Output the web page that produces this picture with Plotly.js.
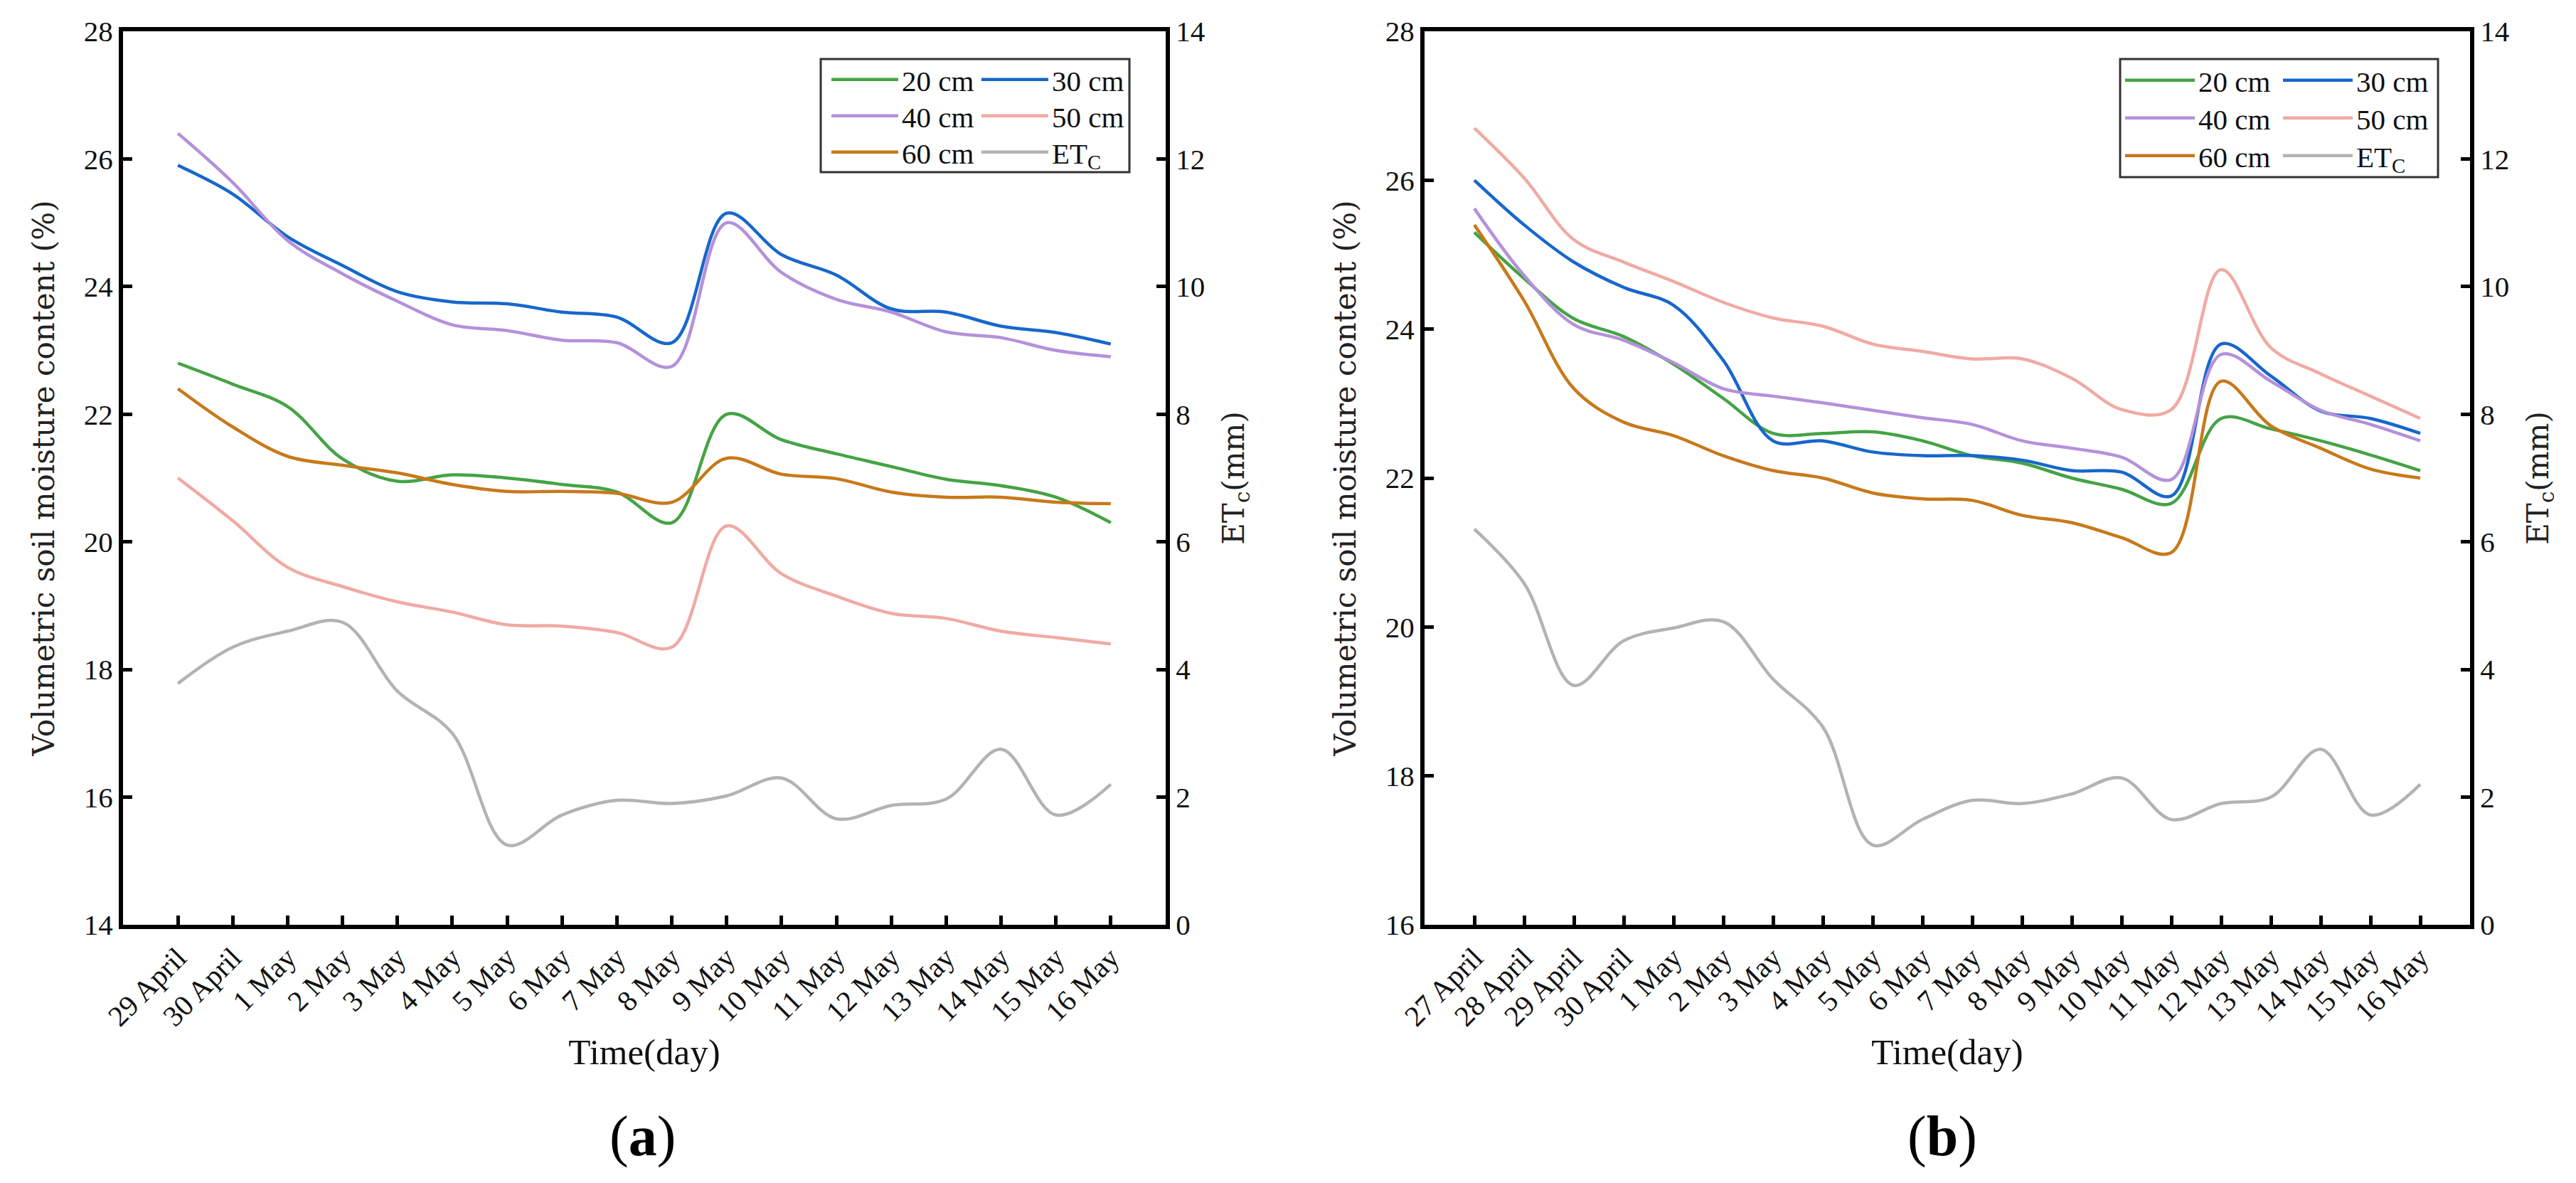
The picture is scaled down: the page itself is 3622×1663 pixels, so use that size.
<!DOCTYPE html>
<html><head><meta charset="utf-8">
<script src="https://cdn.plot.ly/plotly-3.0.1.min.js"></script>
<style>html,body{margin:0;padding:0;background:#fff;} #chart{width:3622px;height:1663px;}</style>
</head><body><div id="chart"></div>
<script>
// ---------- data: panel (a) ----------
const datesA = ['29 April','30 April','1 May','2 May','3 May','4 May','5 May','6 May','7 May','8 May','9 May','10 May','11 May','12 May','13 May','14 May','15 May','16 May'];
const a20 = [22.8,22.47,22.12,21.3,20.95,21.05,21.0,20.9,20.78,20.3,22.0,21.6,21.38,21.18,20.98,20.88,20.7,20.3];
const a30 = [25.9,25.45,24.78,24.33,23.92,23.76,23.73,23.6,23.52,23.12,25.15,24.5,24.18,23.65,23.6,23.38,23.28,23.1];
const a40 = [26.4,25.63,24.72,24.2,23.77,23.4,23.31,23.16,23.12,22.75,25.0,24.22,23.8,23.6,23.29,23.2,23.0,22.9];
const a50 = [21.0,20.33,19.6,19.3,19.06,18.9,18.7,18.68,18.58,18.35,20.25,19.5,19.15,18.88,18.8,18.6,18.5,18.4];
const a60 = [22.4,21.8,21.34,21.2,21.08,20.9,20.79,20.79,20.76,20.62,21.31,21.06,20.99,20.78,20.7,20.7,20.62,20.6];
const aET = [3.78,4.35,4.6,4.74,3.66,3.0,1.25,1.72,1.95,1.9,2.02,2.3,1.66,1.87,1.97,2.75,1.72,2.2];

// ---------- data: panel (b) ----------
const datesB = ['27 April','28 April','29 April','30 April','1 May','2 May','3 May','4 May','5 May','6 May','7 May','8 May','9 May','10 May','11 May','12 May','13 May','14 May','15 May','16 May'];
const b20 = [25.3,24.68,24.14,23.9,23.53,23.07,22.6,22.6,22.62,22.5,22.3,22.2,22.0,21.85,21.66,22.8,22.66,22.5,22.31,22.1];
const b30 = [26.0,25.4,24.9,24.56,24.32,23.58,22.5,22.5,22.35,22.3,22.3,22.24,22.1,22.08,21.76,23.8,23.37,22.9,22.8,22.6];
const b40 = [25.62,24.72,24.06,23.85,23.55,23.2,23.1,23.01,22.91,22.81,22.72,22.5,22.4,22.28,21.98,23.66,23.3,22.91,22.72,22.5];
const b50 = [26.7,26.03,25.2,24.9,24.64,24.36,24.15,24.04,23.8,23.7,23.6,23.6,23.34,22.92,22.92,24.8,23.75,23.4,23.1,22.8];
const b60 = [25.4,24.38,23.2,22.75,22.57,22.3,22.1,22.0,21.8,21.72,21.7,21.5,21.4,21.2,21.0,23.3,22.7,22.4,22.12,22.0];
const bET = [6.2,5.35,3.75,4.45,4.65,4.75,3.85,3.1,1.25,1.65,1.95,1.9,2.05,2.3,1.65,1.9,2.0,2.75,1.72,2.2];

// ---------- series labels / colours ----------
const seriesNames = ['20 cm','30 cm','40 cm','50 cm','60 cm','ET<sub>C</sub>'];
const seriesColors = ['#45a345','#1767cc','#b491da','#f0aaa3','#c8791a','#b3b3b3'];

// ---------- geometry helpers (pixels -> paper) ----------
const W = 3622, H = 1663, ML = 173, MR = 149, MT = 44, MB = 363;
const GW = W - ML - MR, GH = H - MT - MB;
const px = x => (x - ML) / GW;
const py = y => (H - MB - y) / GH;

const serif = 'Liberation Serif, Times New Roman, serif';
const wide = 'DejaVu Serif, serif';

const seriesA = [a20, a30, a40, a50, a60, aET];
const seriesB = [b20, b30, b40, b50, b60, bET];

// legend slots: one legend per entry, laid out as 2 columns x 3 rows inside a frame
const legColA = [1164, 1375], legColB = [2983, 3205];
const legRowsA = [112, 163, 214], legRowsB = [113, 166, 219];

const traces = [];
const legendDefs = {};
function addPanel(vals, dates, xa, ya, ya2, cols, rows, itemW, startIdx) {
  vals.forEach((v, i) => {
    const key = 'legend' + (startIdx + i === 1 ? '' : (startIdx + i));
    traces.push({
      x: dates, y: v, name: seriesNames[i], type: 'scatter', mode: 'lines',
      line: {color: seriesColors[i], width: 4.5, shape: 'spline', smoothing: 1},
      xaxis: xa, yaxis: i === 5 ? ya2 : ya, legend: key
    });
    legendDefs[key] = {
      x: px(cols[i % 2]), y: py(rows[Math.floor(i / 2)]), xanchor: 'left', yanchor: 'middle',
      bgcolor: 'rgba(0,0,0,0)', borderwidth: 0, itemwidth: itemW,
      font: {family: serif, size: 41, color: '#111'}
    };
  });
}
addPanel(seriesA, datesA, 'x', 'y', 'y2', legColA, legRowsA, 94, 1);
addPanel(seriesB, datesB, 'x2', 'y3', 'y4', legColB, legRowsB, 98, 7);

const tickFont = {family: serif, size: 41, color: '#111'};
const baseAx = {
  showline: true, linewidth: 6, linecolor: '#000', ticks: 'inside', ticklen: 13, tickwidth: 5,
  tickcolor: '#000', showgrid: false, zeroline: false, tickfont: tickFont, fixedrange: true
};
const xAx = (dom, n, anchor) => Object.assign({}, baseAx, {
  domain: dom, type: 'category', range: [-1, n], anchor: anchor, mirror: true, tickangle: -45,
  title: {text: 'Time(day)', font: {family: serif, size: 51, color: '#111'}, standoff: 12}
});
const yL = (range, anchor) => Object.assign({}, baseAx, {
  range: range, dtick: 2, anchor: anchor, side: 'left',
  title: {text: 'Volumetric soil moisture content (%)', font: {family: wide, size: 42, color: '#222'}, standoff: 30}
});
const yR = (overlay, anchor) => Object.assign({}, baseAx, {
  range: [0, 14], dtick: 2, anchor: anchor, side: 'right', overlaying: overlay,
  title: {text: 'ET<sub>c</sub>(mm)', font: {family: wide, size: 42, color: '#222'}, standoff: 28}
});

const layout = Object.assign({
  width: W, height: H, paper_bgcolor: '#fff', plot_bgcolor: '#fff',
  margin: {l: ML, r: MR, t: MT, b: MB, autoexpand: false},
  showlegend: true,
  xaxis: xAx([0, px(1639)], 18, 'y'),
  yaxis: yL([14, 28], 'x'),
  yaxis2: yR('y', 'x'),
  xaxis2: xAx([px(2003), 1], 20, 'y3'),
  yaxis3: yL([16, 28], 'x2'),
  yaxis4: yR('y3', 'x2'),
  shapes: [
    {type: 'rect', xref: 'paper', yref: 'paper', x0: px(1154), x1: px(1588), y0: py(83), y1: py(242),
     line: {color: '#333', width: 3}, fillcolor: 'rgba(0,0,0,0)', layer: 'above'},
    {type: 'rect', xref: 'paper', yref: 'paper', x0: px(2981), x1: px(3428), y0: py(83), y1: py(249),
     line: {color: '#333', width: 3}, fillcolor: 'rgba(0,0,0,0)', layer: 'above'}
  ],
  annotations: [
    {text: '(<b>a</b>)', xref: 'paper', yref: 'paper', x: px(903), y: py(1597), showarrow: false,
     font: {family: serif, size: 80, color: '#000'}, xanchor: 'center', yanchor: 'middle'},
    {text: '(<b>b</b>)', xref: 'paper', yref: 'paper', x: px(2731), y: py(1597), showarrow: false,
     font: {family: serif, size: 80, color: '#000'}, xanchor: 'center', yanchor: 'middle'}
  ]
}, legendDefs);

Plotly.newPlot('chart', traces, layout, {displayModeBar: false, staticPlot: true});
</script>
</body></html>
